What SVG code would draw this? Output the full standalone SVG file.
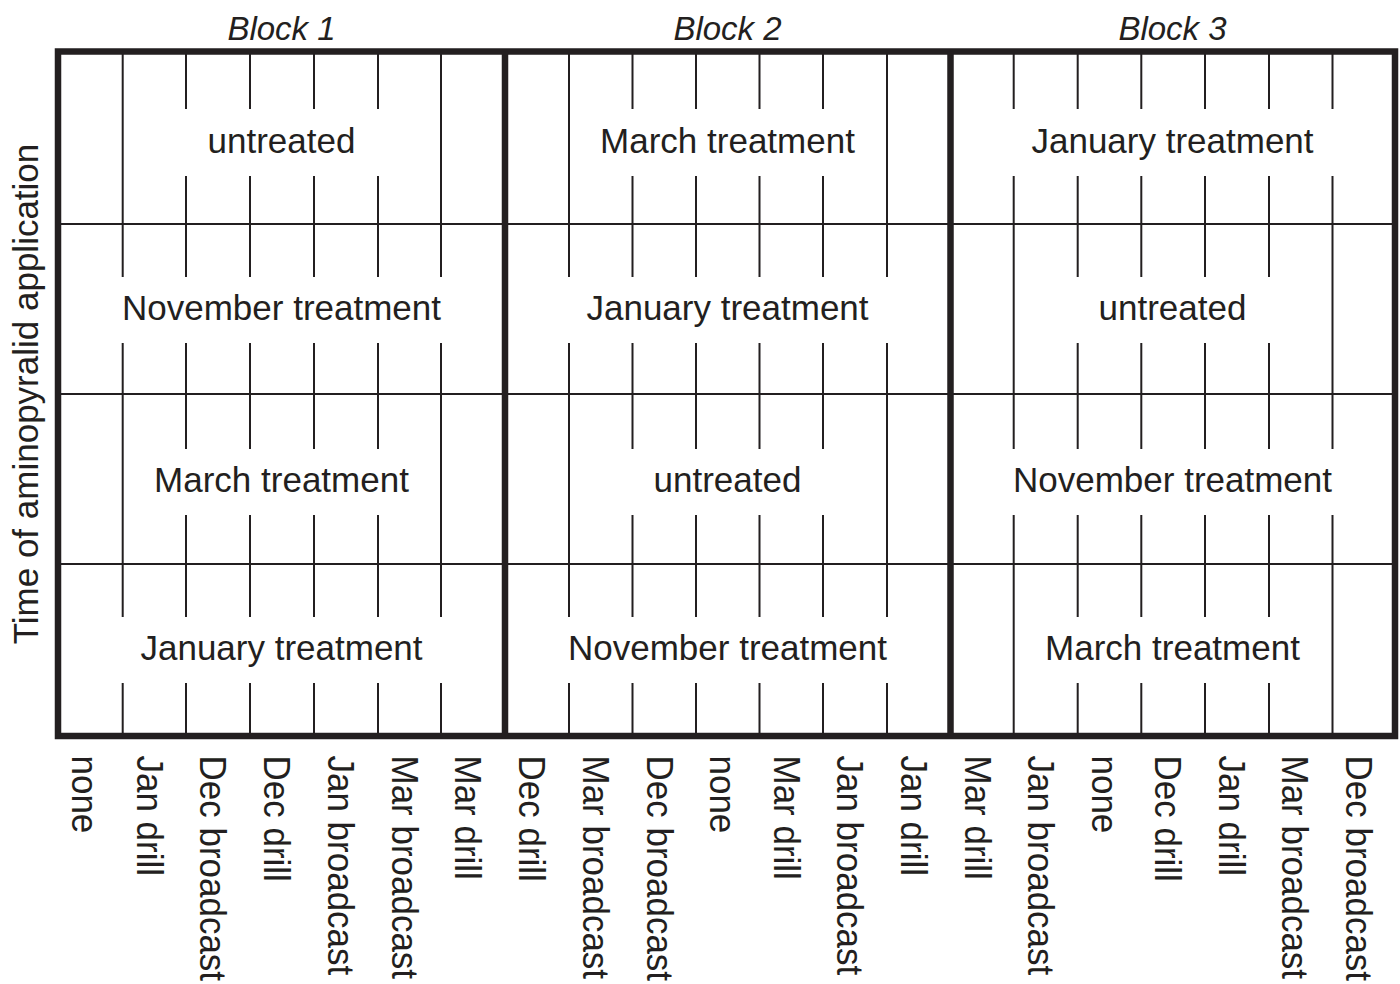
<svg xmlns="http://www.w3.org/2000/svg" width="1400" height="984" viewBox="0 0 1400 984">
<style>
.thin{fill:none;stroke:#231f20;stroke-width:2}
.thick{fill:none;stroke:#231f20;stroke-width:6.5}
.lbl{font-family:"Liberation Sans",Arial,sans-serif;font-size:35px;fill:#231f20;text-anchor:middle}
.blk{font-family:"Liberation Sans",Arial,sans-serif;font-size:33px;font-style:italic;fill:#231f20;text-anchor:middle}
.col{font-family:"Liberation Sans",Arial,sans-serif;font-size:35px;fill:#231f20}
.ax{font-family:"Liberation Sans",Arial,sans-serif;font-size:35px;fill:#231f20;text-anchor:middle}
</style>
<rect width="1400" height="984" fill="#ffffff"/>
<g id="grid">
<g id="row-lines">
<path class="thin" d="M58 224H1395M58 394H1395M58 564H1395"/>
</g>
<g id="block1-lines">
<path class="thin" d="M122.7 51.5V277M122.7 343V617M122.7 683V736M441 51.5V277M441 343V617M441 683V736"/>
<path class="thin" d="M186 51.5V109M186 176V277M186 343V449M186 515V617M186 683V736M250 51.5V109M250 176V277M250 343V449M250 515V617M250 683V736M314 51.5V109M314 176V277M314 343V449M314 515V617M314 683V736M378 51.5V109M378 176V277M378 343V449M378 515V617M378 683V736"/>
</g>
<g id="block2-lines">
<path class="thin" d="M569 51.5V277M569 343V617M569 683V736M887 51.5V277M887 343V617M887 683V736"/>
<path class="thin" d="M632.5 51.5V109M632.5 176V277M632.5 343V449M632.5 515V617M632.5 683V736M696 51.5V109M696 176V277M696 343V449M696 515V617M696 683V736M759.5 51.5V109M759.5 176V277M759.5 343V449M759.5 515V617M759.5 683V736M823 51.5V109M823 176V277M823 343V449M823 515V617M823 683V736"/>
</g>
<g id="block3-lines">
<path class="thin" d="M1013.7 51.5V109M1013.7 176V449M1013.7 515V736M1332.5 51.5V109M1332.5 176V449M1332.5 515V736"/>
<path class="thin" d="M1077.7 51.5V109M1077.7 176V277M1077.7 343V449M1077.7 515V617M1077.7 683V736M1141.3 51.5V109M1141.3 176V277M1141.3 343V449M1141.3 515V617M1141.3 683V736M1205 51.5V109M1205 176V277M1205 343V449M1205 515V617M1205 683V736M1269 51.5V109M1269 176V277M1269 343V449M1269 515V617M1269 683V736"/>
</g>
<g id="frame">
<rect class="thick" x="58" y="51.5" width="1337" height="684.5"/>
<path class="thick" d="M505 51.5V736M950.5 51.5V736"/>
</g>
</g>
<g id="block1">
<text class="blk" x="281.5" y="40">Block 1</text>
<text class="lbl" x="281.5" y="153">untreated</text>
<text class="lbl" x="281.5" y="320">November treatment</text>
<text class="lbl" x="281.5" y="492">March treatment</text>
<text class="lbl" x="281.5" y="660">January treatment</text>
</g>
<g id="block2">
<text class="blk" x="727.5" y="40">Block 2</text>
<text class="lbl" x="727.5" y="153">March treatment</text>
<text class="lbl" x="727.5" y="320">January treatment</text>
<text class="lbl" x="727.5" y="492">untreated</text>
<text class="lbl" x="727.5" y="660">November treatment</text>
</g>
<g id="block3">
<text class="blk" x="1172.5" y="40">Block 3</text>
<text class="lbl" x="1172.5" y="153">January treatment</text>
<text class="lbl" x="1172.5" y="320">untreated</text>
<text class="lbl" x="1172.5" y="492">November treatment</text>
<text class="lbl" x="1172.5" y="660">March treatment</text>
</g>
<g id="column-labels">
<text class="col" transform="translate(72 755.5) rotate(90) scale(1 1.08)">none</text>
<text class="col" transform="translate(136.7 755.5) rotate(90) scale(1 1.08)">Jan drill</text>
<text class="col" transform="translate(200 755.5) rotate(90) scale(1 1.08)">Dec broadcast</text>
<text class="col" transform="translate(264 755.5) rotate(90) scale(1 1.08)">Dec drill</text>
<text class="col" transform="translate(328 755.5) rotate(90) scale(1 1.08)">Jan broadcast</text>
<text class="col" transform="translate(392 755.5) rotate(90) scale(1 1.08)">Mar broadcast</text>
<text class="col" transform="translate(455 755.5) rotate(90) scale(1 1.08)">Mar drill</text>
<text class="col" transform="translate(519 755.5) rotate(90) scale(1 1.08)">Dec drill</text>
<text class="col" transform="translate(583 755.5) rotate(90) scale(1 1.08)">Mar broadcast</text>
<text class="col" transform="translate(646.5 755.5) rotate(90) scale(1 1.08)">Dec broadcast</text>
<text class="col" transform="translate(710 755.5) rotate(90) scale(1 1.08)">none</text>
<text class="col" transform="translate(773.5 755.5) rotate(90) scale(1 1.08)">Mar drill</text>
<text class="col" transform="translate(837 755.5) rotate(90) scale(1 1.08)">Jan broadcast</text>
<text class="col" transform="translate(901 755.5) rotate(90) scale(1 1.08)">Jan drill</text>
<text class="col" transform="translate(964.5 755.5) rotate(90) scale(1 1.08)">Mar drill</text>
<text class="col" transform="translate(1027.7 755.5) rotate(90) scale(1 1.08)">Jan broadcast</text>
<text class="col" transform="translate(1091.7 755.5) rotate(90) scale(1 1.08)">none</text>
<text class="col" transform="translate(1155.3 755.5) rotate(90) scale(1 1.08)">Dec drill</text>
<text class="col" transform="translate(1219 755.5) rotate(90) scale(1 1.08)">Jan drill</text>
<text class="col" transform="translate(1282 755.5) rotate(90) scale(1 1.08)">Mar broadcast</text>
<text class="col" transform="translate(1346 755.5) rotate(90) scale(1 1.08)">Dec broadcast</text>
</g>
<g id="axis-label">
<text class="ax" transform="translate(38 394) rotate(-90)">Time of aminopyralid application</text>
</g>
</svg>
